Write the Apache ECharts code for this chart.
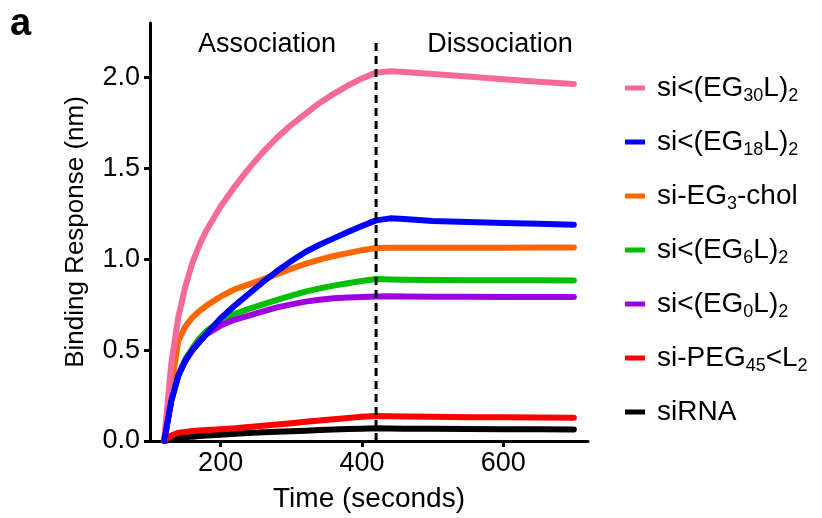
<!DOCTYPE html>
<html>
<head>
<meta charset="utf-8">
<script src="https://cdn.jsdelivr.net/npm/echarts@6/dist/echarts.min.js"></script>
<style>
  html, body { margin: 0; padding: 0; background: #fff; }
  #chart { width: 822px; height: 518px; }
</style>
</head>
<body>
<div id="chart"></div>
<script>
// Sampling times (seconds) shared by every sensorgram trace
const times = [120, 130, 140, 150, 160, 170, 180, 200, 220, 240, 260, 280, 300, 320, 340, 360, 380, 400, 420, 440, 460, 500, 550, 600, 650, 700];

// Binding response (nm) for each construct
const eg30 = [0, 0.42, 0.68, 0.85, 0.98, 1.08, 1.16, 1.29, 1.40, 1.50, 1.59, 1.67, 1.74, 1.80, 1.86, 1.91, 1.955, 1.995, 2.027, 2.035, 2.03, 2.02, 2.005, 1.99, 1.977, 1.965];
const eg18 = [0, 0.22, 0.36, 0.44, 0.50, 0.545, 0.59, 0.675, 0.745, 0.81, 0.875, 0.935, 0.99, 1.04, 1.08, 1.115, 1.15, 1.183, 1.214, 1.225, 1.222, 1.21, 1.205, 1.2, 1.195, 1.19];
const eg3chol = [0, 0.30, 0.55, 0.63, 0.68, 0.715, 0.745, 0.795, 0.835, 0.862, 0.89, 0.918, 0.948, 0.975, 0.998, 1.018, 1.034, 1.05, 1.062, 1.063, 1.063, 1.063, 1.064, 1.064, 1.065, 1.065];
const eg6 = [0, 0.22, 0.36, 0.45, 0.51, 0.565, 0.605, 0.66, 0.70, 0.727, 0.752, 0.776, 0.80, 0.822, 0.84, 0.855, 0.868, 0.88, 0.891, 0.889, 0.887, 0.886, 0.885, 0.884, 0.884, 0.883];
const eg0 = [0, 0.22, 0.36, 0.445, 0.50, 0.55, 0.587, 0.635, 0.668, 0.69, 0.713, 0.735, 0.752, 0.767, 0.777, 0.785, 0.79, 0.793, 0.795, 0.796, 0.795, 0.794, 0.794, 0.793, 0.793, 0.792];
const peg45 = [0, 0.03, 0.045, 0.05, 0.055, 0.058, 0.06, 0.065, 0.07, 0.077, 0.084, 0.091, 0.098, 0.106, 0.113, 0.12, 0.127, 0.133, 0.138, 0.136, 0.135, 0.133, 0.131, 0.13, 0.129, 0.128];
const sirna = [0, 0.008, 0.015, 0.02, 0.024, 0.027, 0.03, 0.035, 0.04, 0.044, 0.048, 0.051, 0.054, 0.057, 0.06, 0.063, 0.066, 0.068, 0.07, 0.069, 0.068, 0.067, 0.066, 0.065, 0.064, 0.063];

// Axis ticks
const xTicks = [200, 400, 600];
const yTicks = [0, 0.5, 1.0, 1.5, 2.0];

// Start of dissociation phase
const switchTime = 420;
const switchTop = 2.19;

// Legend entries (rich-text names with subscripts), top to bottom
const legendNames = ['eg30', 'eg18', 'eg3chol', 'eg6', 'eg0', 'peg45', 'sirna'];
const legendLabels = {
  eg30: 'si<(EG{sub|30}L){sub|2}',
  eg18: 'si<(EG{sub|18}L){sub|2}',
  eg3chol: 'si-EG{sub|3}-chol',
  eg6: 'si<(EG{sub|6}L){sub|2}',
  eg0: 'si<(EG{sub|0}L){sub|2}',
  peg45: 'si-PEG{sub|45}<L{sub|2}',
  sirna: 'siRNA'
};

const FONT = '"Liberation Sans", Arial, Helvetica, sans-serif';

const pair = vals => times.map((t, i) => [t, vals[i]]);

function trace(name, vals, color) {
  return {
    name: name,
    type: 'line',
    data: pair(vals),
    showSymbol: false,
    symbol: 'none',
    smooth: false,
    lineStyle: { width: 6, color: color, cap: 'round', join: 'round' },
    itemStyle: { color: color },
    emphasis: { disabled: true },
    silent: true,
    animation: false
  };
}

const chart = echarts.init(document.getElementById('chart'), null, { renderer: 'canvas' });

chart.setOption({
  animation: false,
  backgroundColor: '#ffffff',
  textStyle: { fontFamily: FONT },
  grid: { left: 150, top: 23, right: 234, bottom: 77, containLabel: false },
  xAxis: {
    type: 'value',
    min: 100,
    max: 720,
    name: 'Time (seconds)',
    nameLocation: 'middle',
    nameGap: 44,
    nameTextStyle: { fontSize: 28, color: '#000', fontFamily: FONT },
    axisLine: { show: true, onZero: false, lineStyle: { color: '#000', width: 3 } },
    axisTick: { show: true, customValues: xTicks, length: 6, lineStyle: { color: '#000', width: 3 } },
    axisLabel: { customValues: xTicks, fontSize: 27, color: '#000', margin: 9, fontFamily: FONT },
    splitLine: { show: false }
  },
  yAxis: {
    type: 'value',
    min: 0,
    max: 2.3,
    name: 'Binding Response (nm)',
    nameLocation: 'middle',
    nameGap: 61,
    nameTextStyle: { fontSize: 26, color: '#000', fontFamily: FONT },
    axisLine: { show: true, lineStyle: { color: '#000', width: 3 } },
    axisTick: { show: true, customValues: yTicks, length: 6, lineStyle: { color: '#000', width: 3 } },
    axisLabel: {
      customValues: yTicks,
      fontSize: 27,
      color: '#000',
      margin: 10,
      fontFamily: FONT,
      formatter: v => v.toFixed(1)
    },
    splitLine: { show: false }
  },
  legend: {
    orient: 'vertical',
    left: 620,
    top: 66,
    itemWidth: 20,
    itemHeight: 5,
    itemGap: 20,
    icon: 'rect',
    selectedMode: false,
    data: legendNames,
    formatter: name => legendLabels[name],
    textStyle: {
      fontSize: 28,
      color: '#000',
      fontFamily: FONT,
      lineHeight: 34,
      padding: [0, 0, 0, 7],
      rich: {
        sub: { fontSize: 18, verticalAlign: 'bottom', lineHeight: 17, fontFamily: FONT, color: '#000' }
      }
    }
  },
  graphic: [
    { type: 'text', left: 10, top: 6, style: { text: 'a', font: 'bold 38px ' + FONT, fill: '#000' } },
    { type: 'text', x: 267, y: 45, style: { text: 'Association', font: '27px ' + FONT, fill: '#000', align: 'center', verticalAlign: 'middle' } },
    { type: 'text', x: 500, y: 45, style: { text: 'Dissociation', font: '27px ' + FONT, fill: '#000', align: 'center', verticalAlign: 'middle' } }
  ],
  series: [
    trace('sirna', sirna, '#000000'),
    trace('peg45', peg45, '#FF0000'),
    trace('eg6', eg6, '#00BE00'),
    trace('eg0', eg0, '#A000E0'),
    trace('eg3chol', eg3chol, '#FF6600'),
    trace('eg30', eg30, '#F7699A'),
    trace('eg18', eg18, '#0000FF'),
    {
      name: 'phase',
      type: 'line',
      data: [[switchTime, 0], [switchTime, switchTop]],
      showSymbol: false,
      symbol: 'none',
      lineStyle: { color: '#000', width: 3, type: [8, 5] },
      silent: true,
      z: 5
    }
  ]
});
</script>
</body>
</html>
